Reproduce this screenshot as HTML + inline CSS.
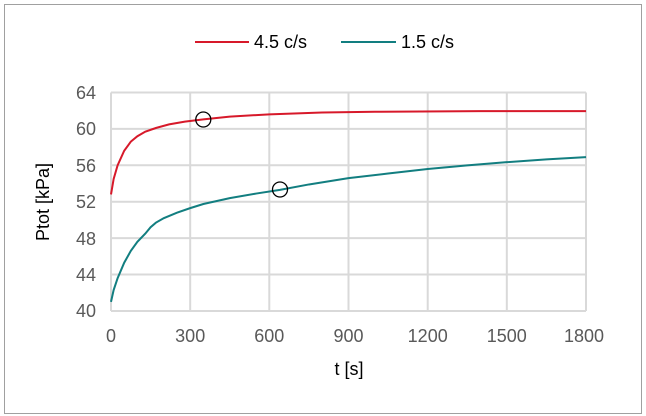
<!DOCTYPE html>
<html><head><meta charset="utf-8"><style>
html,body{margin:0;padding:0;background:#fff}
svg{display:block;font-family:"Liberation Sans",sans-serif}
</style></head><body>
<svg width="646" height="416" viewBox="0 0 646 416">
<rect x="4.5" y="4.5" width="637" height="409" fill="#fff" stroke="#a0a0a0" stroke-width="1"/>
<g stroke="#d9d9d9" stroke-width="2">
<line x1="111" y1="92.5" x2="586" y2="92.5"/>
<line x1="111" y1="128.9" x2="586" y2="128.9"/>
<line x1="111" y1="165.3" x2="586" y2="165.3"/>
<line x1="111" y1="201.7" x2="586" y2="201.7"/>
<line x1="111" y1="238.1" x2="586" y2="238.1"/>
<line x1="111" y1="274.5" x2="586" y2="274.5"/>
<line x1="111" y1="311" x2="586" y2="311"/>
<line x1="111" y1="92.5" x2="111" y2="311"/>
<line x1="190.2" y1="92.5" x2="190.2" y2="311"/>
<line x1="269.3" y1="92.5" x2="269.3" y2="311"/>
<line x1="348.5" y1="92.5" x2="348.5" y2="311"/>
<line x1="427.7" y1="92.5" x2="427.7" y2="311"/>
<line x1="506.8" y1="92.5" x2="506.8" y2="311"/>
<line x1="586" y1="92.5" x2="586" y2="311"/>
</g>
<g transform="translate(111,311) scale(0.2639,-9.104) translate(0,-40)" fill="none" stroke-width="2">
<polyline vector-effect="non-scaling-stroke" stroke="#d7192a" points="0,52.8 10,54.5 25,56 50,57.6 75,58.6 100,59.2 130,59.7 170,60.1 220,60.5 280,60.8 350,61.05 450,61.35 600,61.6 800,61.8 1000,61.88 1400,61.95 1800,61.95"/>
<polyline vector-effect="non-scaling-stroke" stroke="#127e80" points="0,41 10,42.3 25,43.6 50,45.3 75,46.6 100,47.6 130,48.5 150,49.2 170,49.7 200,50.2 250,50.8 300,51.3 350,51.75 450,52.4 550,52.9 640,53.3 750,53.9 900,54.6 1050,55.1 1200,55.6 1350,56 1500,56.35 1650,56.65 1800,56.9"/>
</g>
<circle cx="203.3" cy="119.5" r="7.5" fill="none" stroke="#000" stroke-width="1.3"/>
<circle cx="280" cy="189.5" r="7.5" fill="none" stroke="#000" stroke-width="1.3"/>
<g font-size="18" fill="#595959" text-anchor="end">
<text x="96" y="99">64</text>
<text x="96" y="135">60</text>
<text x="96" y="172">56</text>
<text x="96" y="208">52</text>
<text x="96" y="245">48</text>
<text x="96" y="281">44</text>
<text x="96" y="317">40</text>
</g>
<g font-size="18" fill="#595959" text-anchor="middle">
<text x="111" y="342">0</text>
<text x="190.2" y="342">300</text>
<text x="269.3" y="342">600</text>
<text x="348.5" y="342">900</text>
<text x="427.7" y="342">1200</text>
<text x="506.8" y="342">1500</text>
<text x="584" y="342">1800</text>
</g>
<text x="349" y="375" font-size="18" fill="#000" text-anchor="middle">t [s]</text>
<text transform="translate(49,202) rotate(-90)" font-size="18" fill="#000" text-anchor="middle">Ptot [kPa]</text>
<line x1="195" y1="42" x2="249" y2="42" stroke="#d7192a" stroke-width="2"/>
<text x="254" y="48" font-size="18" fill="#000">4.5 c/s</text>
<line x1="341" y1="42" x2="396" y2="42" stroke="#127e80" stroke-width="2"/>
<text x="401" y="48" font-size="18" fill="#000">1.5 c/s</text>
</svg>
</body></html>
